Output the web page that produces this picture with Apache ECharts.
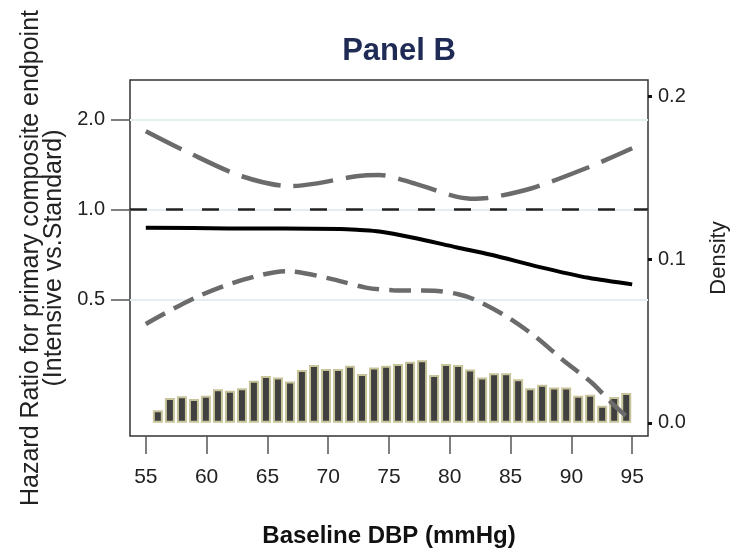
<!DOCTYPE html>
<html>
<head>
<meta charset="utf-8">
<script src="https://cdn.jsdelivr.net/npm/echarts@6/dist/echarts.min.js"></script>
<style>
  html, body { margin: 0; padding: 0; background: #ffffff; }
  #chart { width: 738px; height: 553px; }
</style>
</head>
<body>
<div id="chart"></div>
<script>
// ---------- data ----------
const xTicks = [55, 60, 65, 70, 75, 80, 85, 90, 95];
const hrTicks = [0.5, 1.0, 2.0];
const densityTicks = [0.0, 0.1, 0.2];
const refHR = 1.0;

// histogram bins (bin centres, DBP mmHg) and density
const binCenters = [55.99, 56.98, 57.97, 58.96, 59.94, 60.93, 61.92, 62.91, 63.89, 64.88,
                    65.87, 66.86, 67.84, 68.83, 69.82, 70.81, 71.79, 72.78, 73.77, 74.76,
                    75.74, 76.73, 77.72, 78.71, 79.69, 80.68, 81.67, 82.66, 83.64, 84.63,
                    85.62, 86.61, 87.59, 88.58, 89.57, 90.56, 91.54, 92.53, 93.52, 94.51];
const density = [0.0077, 0.0152, 0.0162, 0.0146, 0.0166, 0.0206, 0.0196, 0.0212, 0.0257, 0.0287,
                 0.0277, 0.0253, 0.0324, 0.0354, 0.0330, 0.0330, 0.0350, 0.0299, 0.0339, 0.0350,
                 0.0360, 0.0374, 0.0384, 0.0293, 0.0360, 0.0354, 0.0327, 0.0277, 0.0303, 0.0303,
                 0.0267, 0.0212, 0.0233, 0.0216, 0.0216, 0.0166, 0.0172, 0.0105, 0.0158, 0.0182];

// hazard ratio estimate
const hrX = [55, 61.8, 71.0, 72.6, 74.2, 76.9, 80.6, 83.4, 87.4, 91.4, 95];
const hrY = [0.869, 0.864, 0.860, 0.853, 0.843, 0.805, 0.746, 0.705, 0.641, 0.590, 0.561];

// upper 95% CI
const upX = [55, 58.4, 62.9, 66.9, 68.8, 72.3, 74.2, 77.2, 81.7, 83.1, 86.6, 91.2, 95];
const upY = [1.830, 1.559, 1.292, 1.197, 1.218, 1.292, 1.305, 1.218, 1.087, 1.093, 1.173, 1.374, 1.604];

// lower 95% CI
const loX = [55, 59.1, 63.1, 66.6, 70.4, 73.1, 75.3, 79.0, 80.7, 82.0, 84.7, 87.1, 89.3, 91.7, 93.3, 95];
const loY = [0.413, 0.507, 0.583, 0.621, 0.583, 0.547, 0.536, 0.533, 0.520, 0.500, 0.437, 0.373, 0.313, 0.262, 0.225, 0.195];

// ---------- build ----------
const lg = v => Math.log2(v);
const pairs = (xs, ys) => xs.map((x, i) => [x, lg(ys[i])]);
const histData = binCenters.map((x, i) => [x, density[i]]);

const FONT = '"Liberation Sans", Arial, sans-serif';
const chart = echarts.init(document.getElementById('chart'), null, { renderer: 'canvas' });

chart.setOption({
  animation: false,
  backgroundColor: '#ffffff',
  title: {
    text: 'Panel B',
    left: 394, top: 31, textAlign: 'center',
    textStyle: { fontFamily: FONT, fontSize: 31, fontWeight: 'bold', color: '#1f2b55' }
  },
  grid: {
    left: 130, top: 80, width: 527, height: 360,
    show: true, borderColor: '#333333', borderWidth: 1.5, backgroundColor: 'transparent'
  },
  xAxis: {
    type: 'value', min: 53.7, max: 96.3,
    name: 'Baseline DBP (mmHg)', nameLocation: 'middle', nameGap: 88,
    nameTextStyle: { fontFamily: FONT, fontSize: 24, fontWeight: 'bold', color: '#111' },
    axisLine: { show: false, onZero: false },
    axisTick: { show: true, customValues: xTicks, length: 18, lineStyle: { color: '#555', width: 1.5 } },
    axisLabel: { customValues: xTicks, margin: 31, fontFamily: FONT, fontSize: 21, color: '#222' },
    splitLine: { show: false }
  },
  yAxis: [
    {
      type: 'value', min: -2.522, max: 1.441, position: 'left',
      name: 'Hazard Ratio for primary composite endpoint\n(Intensive vs.Standard)',
      nameLocation: 'middle', nameGap: 56,
      nameTextStyle: { fontFamily: FONT, fontSize: 25, color: '#222', lineHeight: 23, align: 'center' },
      axisLine: { show: false, onZero: false },
      axisTick: { show: true, customValues: hrTicks.map(lg), length: 19, lineStyle: { color: '#555', width: 1.5 } },
      axisLabel: { customValues: hrTicks.map(lg), margin: 25, fontFamily: FONT, fontSize: 20, color: '#222',
                   formatter: v => Math.pow(2, v).toFixed(1) },
      splitLine: { show: true, lineStyle: { color: '#e4eef0', width: 2 } }
    },
    {
      type: 'value', min: -0.0081, max: 0.2101, position: 'right',
      name: 'Density', nameLocation: 'middle', nameGap: 60, nameRotate: 90,
      nameTextStyle: { fontFamily: FONT, fontSize: 22, color: '#222' },
      axisLine: { show: false, onZero: false },
      axisTick: { show: true, customValues: densityTicks, length: 4, lineStyle: { color: '#111', width: 3 } },
      axisLabel: { customValues: densityTicks, margin: 10, fontFamily: FONT, fontSize: 20, color: '#222',
                   formatter: v => v.toFixed(1) },
      splitLine: { show: false }
    }
  ],
  series: [
    {
      type: 'bar', name: 'Density', yAxisIndex: 1, data: histData,
      barWidth: 10,
      itemStyle: { color: '#404040', borderColor: '#c8c49a', borderWidth: 2 },
      silent: true
    },
    {
      type: 'line', name: 'Upper CI', yAxisIndex: 0, data: pairs(upX, upY),
      smooth: 0.3, showSymbol: false, symbol: 'none',
      lineStyle: { color: '#6b6b6b', width: 4.5, type: [40, 13], cap: 'butt' }
    },
    {
      type: 'line', name: 'Lower CI', yAxisIndex: 0, data: pairs(loX, loY),
      smooth: 0.3, showSymbol: false, symbol: 'none',
      lineStyle: { color: '#6b6b6b', width: 4.5, type: [22, 10], cap: 'butt' }
    },
    {
      type: 'line', name: 'Hazard Ratio', yAxisIndex: 0, data: pairs(hrX, hrY),
      smooth: 0.3, showSymbol: false, symbol: 'none',
      lineStyle: { color: '#000000', width: 4 },
      markLine: {
        silent: true, symbol: 'none', label: { show: false },
        lineStyle: { color: '#222222', width: 2.5, type: [17, 19] },
        data: [{ yAxis: lg(refHR) }]
      }
    }
  ]
});
</script>
</body>
</html>
